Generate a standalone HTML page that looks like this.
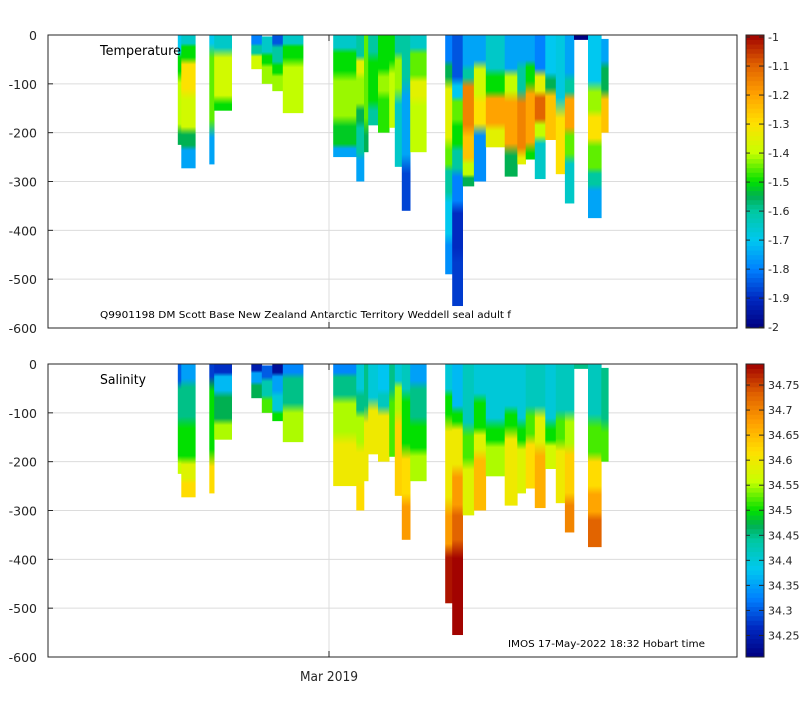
<!DOCTYPE html>
<html><head><meta charset="utf-8"><style>
body{margin:0;background:#fff;}
svg text{font-family:"DejaVu Sans","Liberation Sans",sans-serif;}
</style></head><body>
<svg id="c" width="800" height="700" xmlns="http://www.w3.org/2000/svg"><defs id="defs"></defs></svg>
<script>
// column times in days relative to 1 Mar 2019
const colStart=[-21.6,-21.1,-17.1,-16.4,-11.1,-9.6,-8.1,-6.6,0.6,3.9,5.0,5.6,7.0,8.6,9.4,10.4,11.6,16.6,17.6,19.1,20.7,22.4,25.1,26.9,28.1,29.4,30.9,32.4,33.7,35.0,37.0,38.9];
const colEnd=[-21.1,-19.1,-16.4,-13.9,-9.6,-8.1,-6.6,-3.7,3.9,5.0,5.6,7.0,8.6,9.4,10.4,11.6,13.9,17.6,19.1,20.7,22.4,25.1,26.9,28.1,29.4,30.9,32.4,33.7,35.0,37.0,38.9,39.9];
// temperature profiles: depth break points (m) and values per layer
const tDepth=[
[0,40,80,200,225],[0,20,50,120,200,230,273],[0,20,200,265],[0,30,140,155],[0,20,40,70],[3,40,60,100],[0,20,60,80,115],[0,20,50,160],
[0,30,80,180,230,250],[0,50,80,150,180,250,300],[0,200,240],[0,40,150,185],[0,80,120,200],[0,60,190],[0,40,120,270],[0,100,270,360],[0,30,90,130,240],
[0,60,90,230,270,330,420,490],[0,100,130,180,230,280,350,450,555],[0,70,90,200,260,290,310],[0,60,130,190,300],[0,80,120,190,230],[0,80,120,240,290],[0,60,120,250,265],[0,60,100,240,255],[0,80,120,180,210,295],[0,90,110,215],[0,150,285],[0,90,120,200,250,345],[0,10],[0,110,160,220,280,310,375],[8,60,120,200]];
const tVal=[
[-1.7,-1.5,-1.4,-1.55],[-1.65,-1.5,-1.3,-1.38,-1.55,-1.75],[-1.7,-1.45,-1.75],[-1.65,-1.38,-1.5],[-1.8,-1.6,-1.38],[-1.65,-1.5,-1.42],[-1.85,-1.6,-1.5,-1.42],[-1.65,-1.5,-1.4],
[-1.65,-1.5,-1.42,-1.52,-1.75],[-1.6,-1.35,-1.42,-1.55,-1.6,-1.75],[-1.45,-1.55],[-1.6,-1.5,-1.6],[-1.5,-1.42,-1.48],[-1.5,-1.4],[-1.6,-1.42,-1.65],[-1.6,-1.75,-1.87],[-1.65,-1.45,-1.35,-1.4],
[-1.8,-1.55,-1.35,-1.45,-1.6,-1.7,-1.78],[-1.85,-1.7,-1.45,-1.5,-1.6,-1.8,-1.9,-1.88],[-1.75,-1.6,-1.15,-1.25,-1.4,-1.55],[-1.75,-1.38,-1.3,-1.78],[-1.65,-1.5,-1.2,-1.35],[-1.75,-1.4,-1.2,-1.55],[-1.75,-1.6,-1.15,-1.35],[-1.75,-1.5,-1.2,-1.5],[-1.8,-1.35,-1.1,-1.4,-1.65],[-1.7,-1.55,-1.25],[-1.68,-1.3],[-1.75,-1.6,-1.2,-1.45,-1.65],[-2.0],[-1.7,-1.42,-1.3,-1.45,-1.6,-1.75],[-1.75,-1.55,-1.25]];
// salinity profiles
const sDepth=[
[0,40,120,200,225],[0,35,120,200,240,273],[0,30,200,265],[0,20,60,120,155],[0,15,40,70],[3,30,70,100],[0,20,60,100,117],[0,20,90,160],
[0,20,70,150,250],[0,60,100,170,250,300],[0,100,240],[0,80,185],[0,60,90,200],[0,60,190],[0,40,100,270],[0,60,180,280,360],[0,40,120,180,240],
[0,60,110,300,380,490],[0,100,120,220,300,370,555],[0,140,200,310],[0,70,140,180,300],[0,130,160,230],[0,100,130,290],[0,130,160,265],[0,100,150,255],[0,100,170,295],[0,130,160,215],[0,110,160,285],[0,110,170,280,345],[0,10],[0,120,190,260,310,375],[8,130,200]];
const sVal=[
[34.3,34.45,34.5,34.56],[34.35,34.45,34.5,34.58,34.62],[34.28,34.5,34.62],[34.27,34.37,34.47,34.55],[34.25,34.35,34.47],[34.3,34.43,34.52],[34.23,34.35,34.4,34.5],[34.33,34.45,34.55],
[34.33,34.45,34.55,34.6],[34.4,34.45,34.55,34.6,34.62],[34.45,34.6],[34.4,34.6],[34.38,34.42,34.6],[34.45,34.52],[34.4,34.55,34.63],[34.42,34.5,34.62,34.68],[34.35,34.45,34.5,34.55],
[34.4,34.5,34.6,34.68,34.78],[34.37,34.5,34.6,34.68,34.73,34.79],[34.42,34.52,34.58],[34.4,34.5,34.58,34.65],[34.4,34.5,34.55],[34.4,34.5,34.6],[34.4,34.5,34.58],[34.42,34.52,34.62],[34.42,34.58,34.66],[34.4,34.5,34.57],[34.42,34.52,34.6],[34.42,34.55,34.63,34.7],[34.45],[34.42,34.52,34.62,34.67,34.73],[34.45,34.52]];
const yTicks=[0,-100,-200,-300,-400,-500,-600];
const tTicks=[-1,-1.1,-1.2,-1.3,-1.4,-1.5,-1.6,-1.7,-1.8,-1.9,-2];
const sTicks=[34.25,34.3,34.35,34.4,34.45,34.5,34.55,34.6,34.65,34.7,34.75];

const svg=document.getElementById('c');
const defs=document.getElementById('defs');
const NS='http://www.w3.org/2000/svg';
function mk(t,a,p){const e=document.createElementNS(NS,t);for(const k in a)e.setAttribute(k,a[k]);(p||svg).appendChild(e);return e;}
const X0=48,X1=737;
const xScale=d=>329+7*d;
const CM=[[0,0,0,128],[0.1,0,40,192],[0.2,0,128,255],[0.3,0,200,240],[0.4,0,200,160],[0.45,0,176,80],[0.5,0,224,0],[0.6,200,255,0],[0.7,255,224,0],[0.8,255,160,0],[0.9,224,96,0],[1,160,0,0]];
function cmap(t){t=Math.max(0,Math.min(1,t));
  for(let i=0;i<CM.length-1;i++){const a=CM[i],b=CM[i+1];if(t<=b[0]){const f=(t-a[0])/(b[0]-a[0]);
    return `rgb(${Math.round(a[1]+f*(b[1]-a[1]))},${Math.round(a[2]+f*(b[2]-a[2]))},${Math.round(a[3]+f*(b[3]-a[3]))})`;}}
  return 'rgb(160,0,0)';}
let gid=0;
function panel(name,top,depths,vals,vmin,vmax,ticks,label,labelLen,fmt){
  const H=293, yS=d=>top+d*H/600;
  const g=mk('g',{});
  
  
  yTicks.forEach(v=>{if(v!==0&&v!==-600){const l=mk('line',{x1:X0,x2:X1,y1:yS(-v),y2:yS(-v),stroke:'#dcdcdc','stroke-width':1},g);
    }});
  const gv=mk('line',{x1:xScale(0),x2:xScale(0),y1:top,y2:top+H,stroke:'#dcdcdc'},g);
  
  depths.forEach((ds,i)=>{
    const d0=ds[0],d1=ds[ds.length-1];
    const id='g'+(gid++);
    const lg=mk('linearGradient',{id:id,x1:0,y1:0,x2:0,y2:1},defs);
    for(let k=0;k<ds.length-1;k++){
      const c=cmap((vals[i][k]-vmin)/(vmax-vmin));
      const a=(ds[k]-d0)/(d1-d0), b=(ds[k+1]-d0)/(d1-d0), m=(b-a)*0.15;
      mk('stop',{offset:k===0?0:a+m,'stop-color':c},lg);
      mk('stop',{offset:k===ds.length-2?1:b-m,'stop-color':c},lg);
    }
    const r=mk('rect',{x:xScale(colStart[i]),width:xScale(colEnd[i])-xScale(colStart[i])+0.3,y:yS(d0),height:yS(d1)-yS(d0),fill:`url(#${id})`},g);
    
    
  });
  const fr=mk('rect',{x:X0,y:top,width:X1-X0,height:H,fill:'none',stroke:'#262626','stroke-width':1},g);
  
  mk('line',{x1:xScale(0),x2:xScale(0),y1:top,y2:top+6,stroke:'#262626'},g);
  mk('line',{x1:xScale(0),x2:xScale(0),y1:top+H,y2:top+H-6,stroke:'#262626'},g);
  yTicks.forEach(v=>{
    mk('line',{x1:X0,x2:X0+5,y1:yS(-v),y2:yS(-v),stroke:'#262626'},g);
    const t=mk('text',{x:37,y:yS(-v)+5,'text-anchor':'end','font-size':12.5,fill:'#262626'},g);
    t.textContent=v;
  });
  const tl=mk('text',{x:100,y:top+20,'font-size':13,fill:'#000',textLength:labelLen,lengthAdjust:'spacingAndGlyphs'},g);
  tl.textContent=label;
  const cb=mk('g',{});
  
  const N=64;
  for(let j=0;j<N;j++){mk('rect',{x:746,width:18,y:top+H-(j+1)*H/N,height:H/N+0.4,fill:cmap((j+0.5)/N)},cb);}
  mk('rect',{x:746,y:top,width:18,height:H,fill:'none',stroke:'#262626'},cb);
  ticks.forEach(v=>{const y=top+H-(v-vmin)/(vmax-vmin)*H;
    mk('line',{x1:759,x2:764,y1:y,y2:y,stroke:'#262626'},cb);
    mk('line',{x1:746,x2:750,y1:y,y2:y,stroke:'#262626'},cb);
    const t=mk('text',{x:768,y:y+4,'font-size':11,fill:'#262626'},cb);t.textContent=fmt(v);
    });
}
panel('temperature',35,tDepth,tVal,-2.003,-0.993,tTicks,'Temperature',81,v=>String(+v.toFixed(1)));
panel('salinity',364,sDepth,sVal,34.207,34.792,sTicks,'Salinity',46,v=>String(+v.toFixed(2)));
let t=mk('text',{x:100,y:318,'font-size':10,fill:'#000',textLength:411,lengthAdjust:'spacingAndGlyphs'});t.textContent='Q9901198 DM Scott Base New Zealand Antarctic Territory Weddell seal adult f';

t=mk('text',{x:508,y:647,'font-size':10,fill:'#000',textLength:197,lengthAdjust:'spacingAndGlyphs'});t.textContent='IMOS 17-May-2022 18:32 Hobart time';

t=mk('text',{x:300,y:681,'font-size':13,fill:'#262626',textLength:58,lengthAdjust:'spacingAndGlyphs'});t.textContent='Mar 2019';

</script>
</body></html>
